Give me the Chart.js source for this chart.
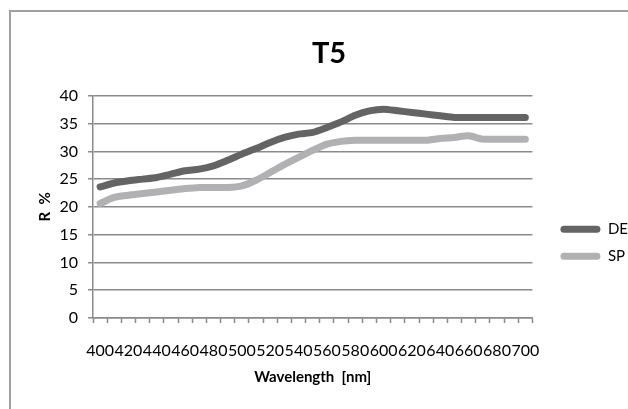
<!DOCTYPE html>
<html>
<head>
<meta charset="utf-8">
<script src="https://cdn.jsdelivr.net/npm/chart.js@4.4.1/dist/chart.umd.min.js"></script>
<style>
  html, body { margin: 0; padding: 0; background: #fff; overflow: hidden; }
  #frame { position: absolute; left: 9px; top: 10px; width: 700px; height: 500px; border: 2px solid #a0a0a0; }
  #wrap { position: absolute; left: 0; top: 0; width: 628px; height: 409px; }
</style>
</head>
<body>
<div id="frame"></div>
<div id="wrap"><canvas id="myChart" width="628" height="409"></canvas></div>
<script>
// longitudes de onda (nm)
const wavelengths = [400, 410, 420, 430, 440, 450, 460, 470, 480, 490, 500, 510, 520, 530, 540, 550,
  560, 570, 580, 590, 600, 610, 620, 630, 640, 650, 660, 670, 680, 690, 700]
const serieDE = [23.6, 24.3, 24.7, 25.0, 25.3, 25.9, 26.5, 26.8, 27.4, 28.4, 29.5, 30.5, 31.6, 32.5, 33.1, 33.4,
  34.3, 35.3, 36.5, 37.3, 37.6, 37.3, 37.0, 36.7, 36.4, 36.1, 36.1, 36.1, 36.1, 36.1, 36.1]
const serieSP = [20.6, 21.7, 22.1, 22.4, 22.7, 23.0, 23.3, 23.5, 23.5, 23.5, 23.8, 24.8, 26.2, 27.6, 28.9, 30.2,
  31.3, 31.8, 32.0, 32.0, 32.0, 32.0, 32.0, 32.0, 32.3, 32.5, 32.8, 32.2, 32.2, 32.2, 32.2]
const yTicks = [0, 5, 10, 15, 20, 25, 30, 35, 40]

const fuente = 'Lato, "Open Sans", sans-serif'
const gris = '#8a8a8a'

const data = {
  labels: wavelengths.map(String),
  datasets: [
    { label: 'DE', data: serieDE, borderColor: '#646464', backgroundColor: '#646464' },
    { label: 'SP', data: serieSP, borderColor: '#b1b1b3', backgroundColor: '#b1b1b3' }
  ].map(d => ({
    ...d,
    borderWidth: 7,
    pointRadius: 0,
    tension: 0.25,
    borderCapStyle: 'round',
    borderJoinStyle: 'round'
  }))
}

const config = {
  type: 'line',
  data,
  options: {
    responsive: false,
    animation: false,
    layout: { padding: { left: 36, right: 6, top: 0, bottom: 0 } },
    plugins: {
      title: {
        display: true,
        text: 'T5',
        color: '#000',
        font: { family: fuente, size: 29, weight: 'bold' },
        padding: { top: 36, bottom: 25 }
      },
      legend: {
        position: 'right',
        title: { display: true, text: '', font: { size: 12 }, padding: { top: 0, bottom: 62 } },
        labels: {
          color: '#000',
          font: { family: fuente, size: 15 },
          boxWidth: 40,
          boxHeight: 7,
          useBorderRadius: true,
          borderRadius: 3.5,
          padding: 12,
          generateLabels: (chart) => {
            const items = Chart.defaults.plugins.legend.labels.generateLabels(chart)
            items.forEach(it => { it.lineWidth = 0 })
            return items
          }
        }
      },
      tooltip: { enabled: false }
    },
    scales: {
      x: {
        offset: true,
        grid: { offset: true, drawOnChartArea: false, tickColor: gris, tickLength: 5, tickWidth: 1.5 },
        border: { color: gris, width: 1.5 },
        ticks: {
          autoSkip: false,
          maxRotation: 0,
          padding: 18,
          color: '#000',
          font: { family: fuente, size: 16 },
          callback: (v, i) => (i % 2 === 0 ? wavelengths[i] : '')
        },
        title: {
          display: true,
          text: 'Wavelength  [nm]',
          color: '#000',
          font: { family: fuente, size: 15, weight: 'bold' },
          padding: { top: 4, bottom: 23 }
        },
        afterFit: s => { s.height = 91 }
      },
      y: {
        min: 0,
        max: 40,
        afterBuildTicks: s => { s.ticks = yTicks.map(v => ({ value: v })) },
        grid: { color: gris, lineWidth: 1.5, tickLength: 5 },
        border: { color: gris, width: 1.5 },
        ticks: { padding: 10, color: '#000', font: { family: fuente, size: 16 } },
        title: {
          display: true,
          text: 'R  %',
          color: '#000',
          font: { family: fuente, size: 15, weight: 'bold' },
          padding: 0
        },
        afterFit: s => { s.width = 57 }
      }
    }
  }
}

const myChart = new Chart(document.getElementById('myChart'), config)

// mover la leyenda hacia la derecha sin cambiar el área del gráfico
const leyenda = myChart.legend
const dibujarLeyenda = leyenda.draw.bind(leyenda)
leyenda.draw = function () {
  this.ctx.save()
  this.ctx.translate(16, 0)
  dibujarLeyenda()
  this.ctx.restore()
}
myChart.draw()
</script>
</body>
</html>
